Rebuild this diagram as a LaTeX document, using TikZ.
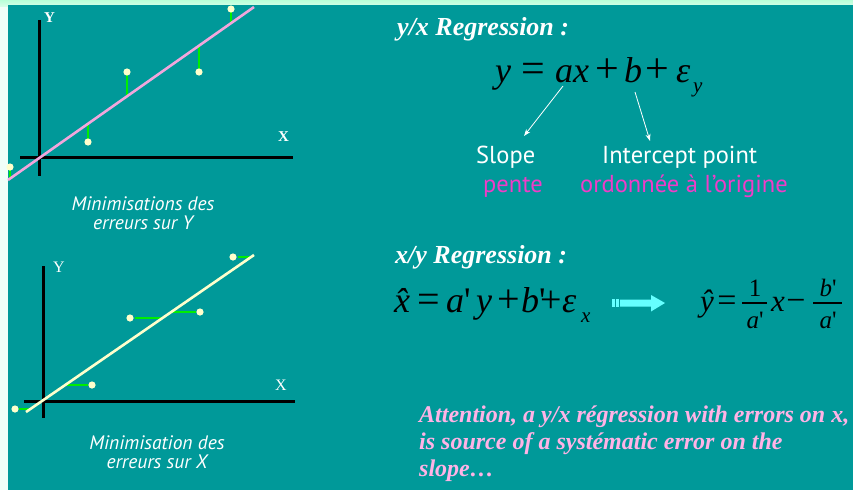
\documentclass[tikz,border=0pt]{standalone}
\usepackage{fontspec}
\setmainfont{Liberation Serif}
\newfontfamily\capfont{PT Sans}
\usetikzlibrary{arrows.meta}
\definecolor{bgteal}{HTML}{009999}
\definecolor{stripL}{HTML}{F0FFF8}
\definecolor{stripT}{HTML}{B8FFD8}
\definecolor{pinkline}{HTML}{F2A6DC}
\definecolor{ptyellow}{HTML}{FFFFCC}
\definecolor{errgreen}{HTML}{00EE00}
\definecolor{magtext}{HTML}{F03CC8}
\definecolor{attpink}{HTML}{FFB3E6}
\definecolor{arrcyan}{HTML}{66FFFF}
\newcommand\fsz[1]{\fontsize{#1}{#1}\selectfont}
\newcommand\pr{\upshape\textquotesingle}
\tikzset{
  axisline/.style={line width=3pt, black},
  errseg/.style={line width=1.4pt, errgreen},
  ptdot/.style={fill=ptyellow},
  axlabB/.style={font=\fsz{15}\bfseries, text=white, inner sep=0pt},
  axlabR/.style={font=\fsz{16}, text=white, inner sep=0pt},
  captxt/.style={font=\capfont\fontsize{19.5}{19.5}\selectfont\itshape, text=white, align=center, inner sep=0pt},
  title/.style={font=\fsz{26}\bfseries\itshape, text=white, anchor=base west, inner sep=0pt},
  eqv/.style={font=\fsz{#1}\itshape, text=black, anchor=base west, inner sep=0pt},
  eqv/.default=36,
  eqo/.style={font=\fsz{#1}, text=black, anchor=base, inner sep=0pt},
  eqo/.default=42,
  eqs/.style={font=\fsz{21}\itshape, text=black, anchor=base west, inner sep=0pt},
  fbar/.style={black, line width=1.3pt},
  lbl/.style={font=\capfont\fsz{24.5}, text=white, anchor=base west, inner sep=0pt},
  lblm/.style={font=\capfont\fsz{24.5}, text=magtext, anchor=base west, inner sep=0pt},
  attn/.style={font=\fontsize{24}{27}\selectfont\bfseries\itshape, text=attpink, anchor=base west, align=left, inner sep=0pt},
  ptr/.style={white, line width=0.8pt, -{Stealth[length=7pt,width=5pt]}},
}
\begin{document}
\begin{tikzpicture}[x=1pt,y=-1pt]
\useasboundingbox (0,0) rectangle (853,490);
\fill[stripL] (0,0) rectangle (853,490);
\shade[top color=stripT, bottom color=stripT!60!white] (0,0) rectangle (853,6);
\fill[bgteal] (8,5) rectangle (853,490);

% ---- top graph (errors on Y)
\draw[axisline] (39,20) -- (39,176);
\draw[axisline] (20,157) -- (293,157);
\node[axlabB, anchor=base west] (ylab1) at (44,22) {Y};
\node[axlabB, anchor=base west] (xlab1) at (278,141) {X};
\draw[errseg] (10,169) -- (10,178);
\draw[errseg] (88,124) -- (88,140);
\draw[errseg] (127,74) -- (127,96);
\draw[errseg] (199,46) -- (199,70);
\draw[errseg] (231,10) -- (231,22);
\draw[pinkline, line width=2.6pt] (8,180) -- (254,7);
\fill[ptdot] (10,167) circle (3.6pt);
\fill[ptdot] (88,142) circle (3.6pt);
\fill[ptdot] (127,72) circle (3.6pt);
\fill[ptdot] (199,72) circle (3.6pt);
\fill[ptdot] (231,9) circle (3.6pt);
\node[captxt] (cap1) at (143,213) {Minimisations des\\erreurs sur Y};

% ---- bottom graph (errors on X)
\draw[axisline] (43,266) -- (43,418);
\draw[axisline] (24,401) -- (295,401);
\node[axlabR, anchor=base west] (ylab2) at (53,272) {Y};
\node[axlabR, anchor=base west] (xlab2) at (275,390) {X};
\draw[errseg] (19,409) -- (30,409);
\draw[errseg] (67,385) -- (88,385);
\draw[errseg] (135,318) -- (161,318);
\draw[errseg] (172,312) -- (196,312);
\draw[errseg] (238,257) -- (250,257);
\draw[ptyellow, line width=2.6pt] (26,412) -- (254,255);
\fill[ptdot] (15,409) circle (3.6pt);
\fill[ptdot] (92,385) circle (3.6pt);
\fill[ptdot] (130,318) circle (3.6pt);
\fill[ptdot] (200,312) circle (3.6pt);
\fill[ptdot] (233,257) circle (3.6pt);
\node[captxt] (cap2) at (157,452) {Minimisation des\\erreurs sur X};

% ---- y/x regression
\node[title] (t1) at (397,35) {y/x Regression :};
\node[eqv] (e1y) at (495,82) {y};
\node[eqo] (e1eq) at (533,82) {=};
\node[eqv] (e1ax) at (555,82) {ax};
\node[eqo] (e1p1) at (607,82) {+};
\node[eqv] (e1b) at (624,82) {b};
\node[eqo] (e1p2) at (657,82) {+};
\node[eqv] (e1e) at (676,82) {ε};
\node[eqs] (e1s) at (693,92) {y};
\coordinate (s1) at (563,86);
\coordinate (s2) at (635,92);
\node[lbl] (slope) at (476,163) {Slope};
\node[lbl] (icpt) at (602,163) {Intercept point};
\node[lblm] (pente) at (483,192) {pente};
\node[lblm] (ordo) at (580,192) {ordonnée à l’origine};
\draw[ptr] (s1) -- (524,136);
\draw[ptr] (s2) -- (650,141);

% ---- x/y regression
\node[title] (t2) at (395,263) {x/y Regression :};
\node[eqv] (e2x) at (394,312) {\^{x}};
\node[eqo=40] (e2eq) at (429,312) {=};
\node[eqv] (e2a) at (446,312) {a\pr};
\node[eqv] (e2y) at (476,312) {y};
\node[eqo=40] (e2p1) at (509,312) {+};
\node[eqv] (e2b) at (521,312) {b\pr};
\node[eqo=38] (e2p2) at (551,312) {+};
\node[eqv] (e2e) at (562,312) {ε};
\node[eqs] (e2s) at (581,322) {x};

\fill[arrcyan] (612,299) rectangle (614.5,307);
\fill[arrcyan] (616,299) rectangle (618.5,307);
\fill[arrcyan] (620,299.5) -- (651,299.5) -- (651,295) -- (665,303) -- (651,311.5) -- (651,306.5) -- (620,306.5) -- cycle;

\node[eqv=31] (e3y) at (700,311) {\^{y}};
\node[eqo=34] (e3eq) at (727,311) {=};
\node[font=\fsz{25}, anchor=base, inner sep=0pt] (e3n1) at (755,296) {1};
\node[eqv=25, anchor=base] (e3d1) at (755,328) {a\pr};
\draw[fbar] (742,303) -- (767,303);
\node[eqv=31] (e3x) at (771,311) {x};
\node[eqo=34] (e3m) at (796,311) {−};
\node[eqv=25, anchor=base] (e3n2) at (828,296) {b\pr};
\node[eqv=25, anchor=base] (e3d2) at (828,328) {a\pr};
\draw[fbar] (813,303) -- (842,303);

\node[attn] (att) at (419,476) {Attention, a y/x régression with errors on x,\\is source of a systématic error on the\\slope…};
\end{tikzpicture}
\end{document}
